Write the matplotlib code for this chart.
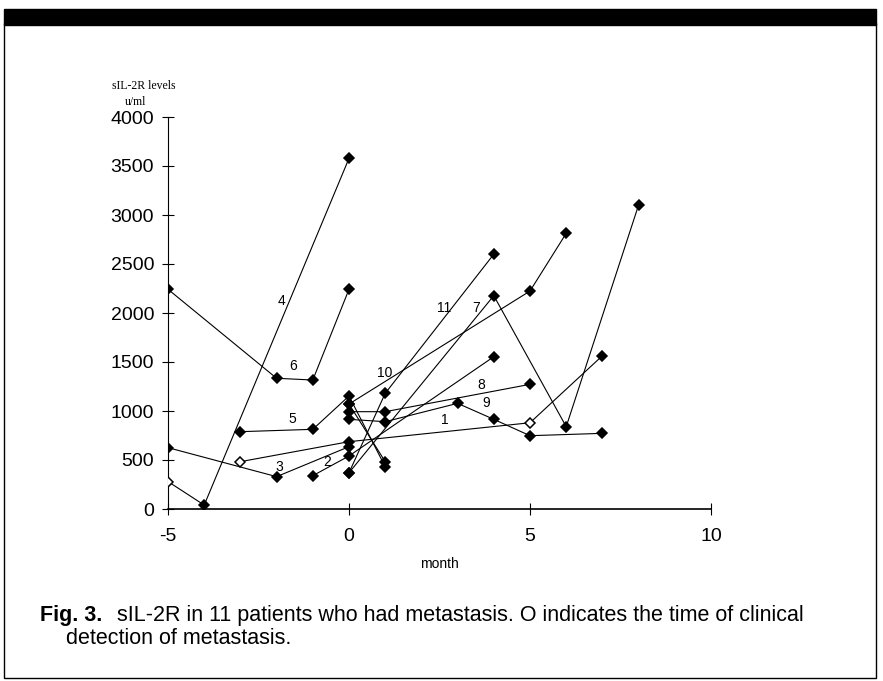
import matplotlib.pyplot as plt
from matplotlib.patches import Rectangle

# months relative to clinical detection of metastasis, sIL-2R (u/ml)
m1 = [-3, 0, 5, 7];            v1 = [483, 687, 880, 1564]
m2 = [-1, 0, 4];               v2 = [340, 541, 1554]
m3 = [-5, -2, 0];              v3 = [626, 330, 636]
m4 = [-5, -4, 0];              v4 = [280, 40, 3578]
m5 = [-3, -1, 0, 1];           v5 = [789, 813, 1153, 432]
m6 = [-5, -2, -1, 0];          v6 = [2242, 1334, 1316, 2242]
m7 = [0, 4, 6, 8];             v7 = [370, 2177, 840, 3102]
m8 = [0, 1, 5];                v8 = [993, 993, 1272]
m9 = [0, 1, 3, 4, 5, 7];       v9 = [915, 891, 1078, 915, 748, 772]
m10 = [0, 5, 6];               v10 = [1071, 2224, 2813]
m11 = [0, 1, 4];               v11 = [370, 1180, 2600]
# short crossing segment in the cluster around month 0-1
mx = [0, 1];                   vx = [1071, 483]

months = [m1, m2, m3, m4, m5, m6, m7, m8, m9, m10, m11, mx]
values = [v1, v2, v3, v4, v5, v6, v7, v8, v9, v10, v11, vx]
# points drawn as open diamonds: (series index, point index)
open_pts = [(0, 0), (0, 2), (3, 0)]

# patient number labels (month, value)
lab_x = [2.64, -0.6, -1.93, -1.86, -1.57, -1.55, 3.5, 3.64, 3.79, 0.99, 2.62]
lab_y = [908, 483, 432, 2125, 915, 1459, 2048, 1265, 1079, 1385, 2048]

xticks = [-5, 0, 5, 10]
yticks = [0, 500, 1000, 1500, 2000, 2500, 3000, 3500, 4000]

plt.rcParams['font.family'] = ['Liberation Sans', 'DejaVu Sans']
plt.rcParams['axes.unicode_minus'] = False

fig = plt.figure(figsize=(8.83, 6.81), dpi=100)
ax = fig.add_axes([168 / 883, 1 - 509 / 681, 543 / 883, 392 / 681])

for i in range(len(months)):
    ax.plot(months[i], values[i], color='black', lw=0.8, zorder=2)
    for j in range(len(months[i])):
        fc = 'white' if (i, j) in open_pts else 'black'
        ax.plot(months[i][j], values[i][j], ls='none', marker='D', ms=5,
                mfc=fc, mec='black', mew=1.1, zorder=3)

for i in range(len(lab_x)):
    ax.text(lab_x[i], lab_y[i], str(i + 1), fontsize=10, ha='center', va='center')

ax.set_xlim(-5, 10)
ax.set_ylim(0, 4000)
ax.set_xticks(xticks)
ax.set_yticks(yticks)
ax.tick_params(direction='inout', length=8, width=0.8, labelsize=14, pad=6)
ax.tick_params(axis='x', pad=10)
ax.spines['top'].set_visible(False)
ax.spines['right'].set_visible(False)
ax.spines['left'].set_linewidth(0.8)
ax.spines['bottom'].set_linewidth(1.2)
ax.set_xlabel('month', fontsize=10, labelpad=8)

fig.text(112 / 883, 1 - 86 / 681, 'sIL-2R levels', family='Liberation Serif',
         fontsize=8.5, va='center')
fig.text(125 / 883, 1 - 102 / 681, 'u/ml', family='Liberation Serif',
         fontsize=8.5, va='center')

# caption
fig.text(40 / 883, 1 - 615 / 681, 'Fig. 3.', fontsize=15.5, fontweight='bold',
         va='center')
fig.text(117 / 883, 1 - 615 / 681,
         'sIL-2R in 11 patients who had metastasis. O indicates the time of clinical',
         fontsize=15.5, va='center')
fig.text(66 / 883, 1 - 639 / 681, 'detection of metastasis.', fontsize=15.5,
         va='center')

# page frame with the heavy top rule
fig.patches.append(Rectangle((4 / 883, 3 / 681), 872 / 883, 655 / 681,
                             transform=fig.transFigure, fill=False,
                             edgecolor='black', lw=1))
fig.patches.append(Rectangle((4 / 883, 1 - 25 / 681), 872 / 883, 16 / 681,
                             transform=fig.transFigure, facecolor='black',
                             edgecolor='black'))

fig.savefig('out.png', dpi=100)
